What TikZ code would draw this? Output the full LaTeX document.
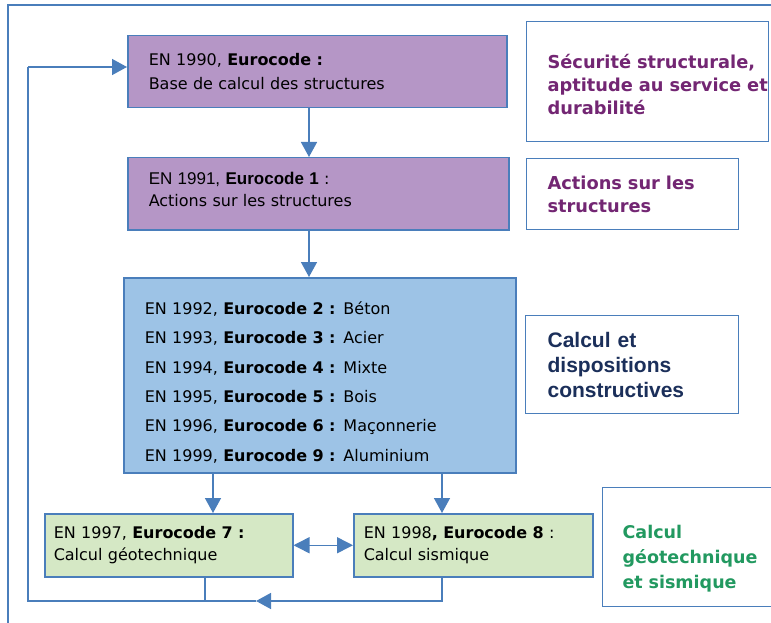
\documentclass[tikz,border=0pt]{standalone}
\usepackage{fontspec}
\setmainfont{DejaVu Sans}
\newfontfamily\arialfont{Liberation Sans}
\usetikzlibrary{arrows.meta}

\definecolor{edgeblue}{RGB}{74,126,187}
\definecolor{mauve}{RGB}{181,150,198}
\definecolor{skyfill}{RGB}{157,195,230}
\definecolor{sagefill}{RGB}{213,232,197}
\definecolor{plum}{RGB}{115,38,115}
\definecolor{navy}{RGB}{27,47,90}
\definecolor{leaf}{RGB}{34,153,96}

\begin{document}
\begin{tikzpicture}[x=1pt,y=-1pt,
  code box/.style={draw=edgeblue,line width=1.5pt,anchor=north west,align=left,
    inner xsep=21pt,font={\fontsize{16}{22}\selectfont}},
  note box/.style={draw=edgeblue,line width=1.2pt,fill=white,anchor=north west,align=left,
    inner xsep=21pt,font={\bfseries\fontsize{17.8}{23}\selectfont}},
  link/.style={draw=edgeblue,line width=1.5pt},
  arr/.style={link,-{Triangle[length=15pt,width=16pt]}}]

  \path[use as bounding box,clip] (0,0) rectangle (771,623);
  \draw[edgeblue,line width=1.5pt] (8,5) rectangle (800,650);

  % Eurocode boxes
  \node[code box,fill=mauve,text width=337pt,minimum height=72pt,
    font={\fontsize{16}{24.5}\selectfont}] (en1990) at (127,35)
    {EN 1990, \textbf{Eurocode :}\\Base de calcul des structures};
  \node[code box,fill=mauve,text width=339pt,minimum height=72pt] (en1991) at (127,157)
    {{\arialfont\fontsize{17}{22}\selectfont EN 1991, \textbf{Eurocode 1}} :\\Actions sur les structures\rule[-8pt]{0pt}{8pt}};
  \node[code box,fill=skyfill,text width=350pt,minimum height=195pt,
    font={\fontsize{16}{29.4}\selectfont}] (en1992) at (123,277)
    {\rule{0pt}{27pt}EN 1992, \textbf{Eurocode 2 :} Béton\\
     EN 1993, \textbf{Eurocode 3 :} Acier\\
     EN 1994, \textbf{Eurocode 4 :} Mixte\\
     EN 1995, \textbf{Eurocode 5 :} Bois\\
     EN 1996, \textbf{Eurocode 6 :} Maçonnerie\\
     EN 1999, \textbf{Eurocode 9 :} Aluminium};
  \node[code box,fill=sagefill,inner xsep=9pt,text width=230pt,minimum height=63pt] (en1997) at (44,513)
    {EN 1997, \textbf{Eurocode 7 :}\\Calcul géotechnique};
  \node[code box,fill=sagefill,inner xsep=10pt,text width=219pt,minimum height=63pt] (en1998) at (353,513)
    {EN 1998\textbf{, Eurocode 8} :\\Calcul sismique};

  % notes on the right
  \node[note box,text=plum,text width=200pt,minimum height=120pt] (secu) at (526,21)
    {\rule{0pt}{21pt}\mbox{Sécurité structurale,}\\\mbox{aptitude au service et}\\durabilité};
  \node[note box,text=plum,text width=170pt,minimum height=71pt] (actions) at (526,158)
    {Actions sur les\\structures};
  \node[note box,text=navy,inner xsep=22pt,text width=169pt,minimum height=98pt,
    font={\arialfont\bfseries\fontsize{21}{25}\selectfont}] (dispo) at (525,315)
    {Calcul et\\dispositions\\constructives};
  \node[note box,text=leaf,inner xsep=20pt,text width=200pt,minimum height=119pt,
    font={\bfseries\fontsize{17.5}{25}\selectfont}] (geosis) at (602,487)
    {\rule{0pt}{37pt}Calcul\\géotechnique\\et sismique};

  % columns and loop corners
  \coordinate (colA) at (309,0);
  \coordinate (colL) at (213,0);
  \coordinate (colR) at (442,0);
  \coordinate (colJ) at (205,0);
  \coordinate (tip) at (256,601);
  \coordinate (loopBot) at (28,601);
  \coordinate (loopTop) at (28,67);

  \draw[arr] (en1990.south -| colA) -- (en1991.north -| colA);
  \draw[arr] (en1991.south -| colA) -- (en1992.north -| colA);
  \draw[arr] (en1992.south -| colL) -- (en1997.north -| colL);
  \draw[arr] (en1992.south -| colR) -- (en1998.north -| colR);
  \draw[link,{Triangle[length=16pt,width=16pt]}-{Triangle[length=16pt,width=16pt]}]
    (en1997.east) -- (en1998.west);

  % return loop
  \draw[arr] (en1998.south -| colR) |- (tip);
  \draw[link] (tip) -- (loopBot) -- (loopTop);
  \draw[link] (en1997.south -| colJ) -- (tip -| colJ);
  \draw[arr] (loopTop) -- (loopTop -| en1990.west);
\end{tikzpicture}
\end{document}
